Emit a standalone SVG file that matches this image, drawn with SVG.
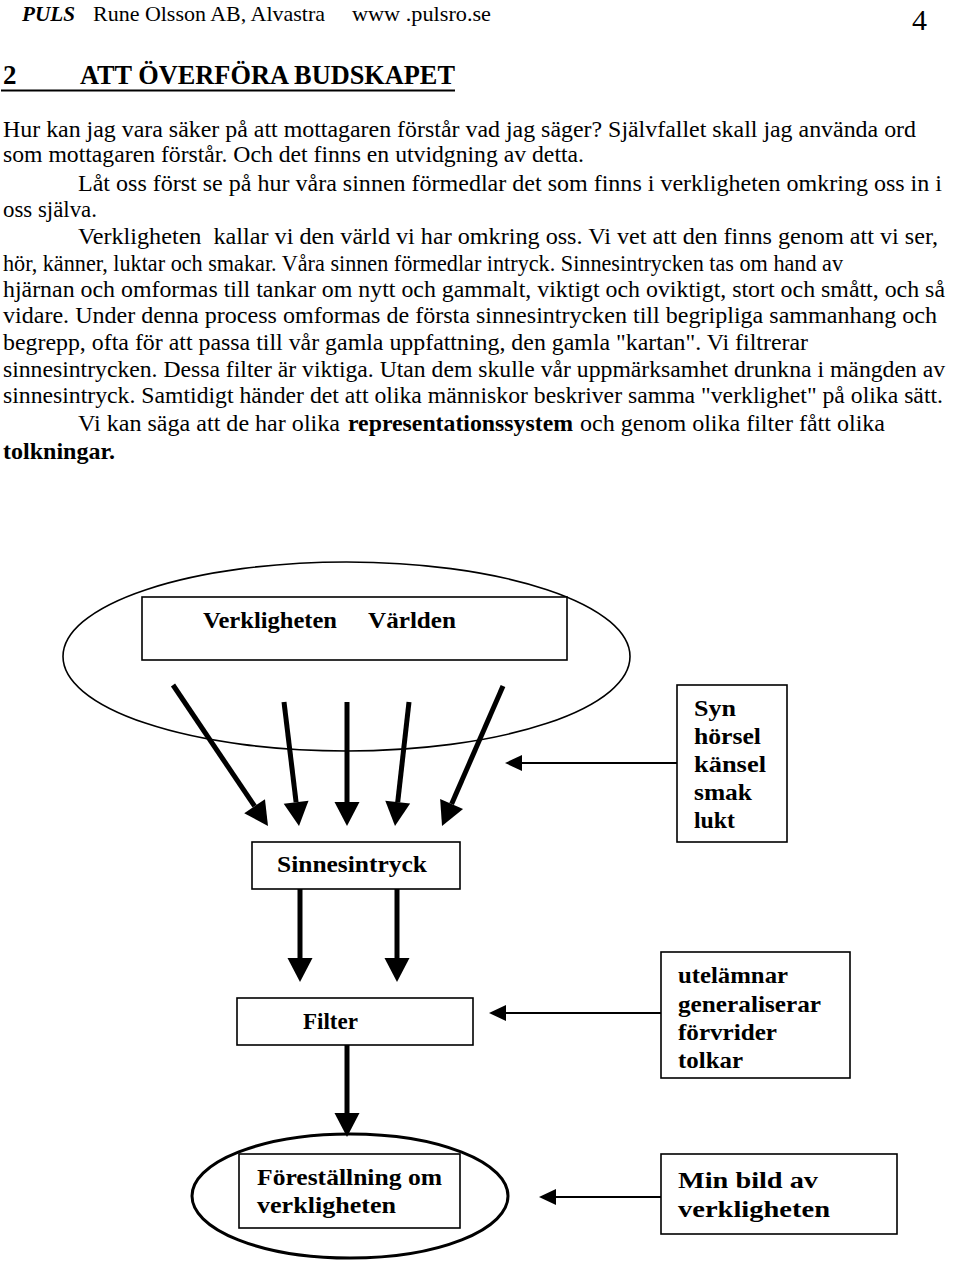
<svg xmlns="http://www.w3.org/2000/svg" width="960" height="1266" viewBox="0 0 960 1266">
<style>
text{font-family:"Liberation Serif","Times New Roman",serif;fill:#000}
.p{font-size:23px;white-space:pre}
.b{font-weight:bold}
.lbl{font-size:22.5px;font-weight:bold}
.box{fill:#fff;stroke:#000;stroke-width:1.6}
.thick{stroke:#000;stroke-width:5;fill:none}
.thin{stroke:#000;stroke-width:1.8;fill:none}
</style>
<defs>
<marker id="big" markerUnits="userSpaceOnUse" markerWidth="26" markerHeight="26" refX="0" refY="12.5" orient="auto" overflow="visible">
<path d="M0,0 L24,12.5 L0,25 z" fill="#000"/>
</marker>
<marker id="small" markerUnits="userSpaceOnUse" markerWidth="18" markerHeight="18" refX="0" refY="8" orient="auto" overflow="visible">
<path d="M0,0 L17,8 L0,16 z" fill="#000"/>
</marker>
</defs>
<rect width="960" height="1266" fill="#fff"/>

<g id="header">
<text x="22" y="21" font-size="21" font-weight="bold" font-style="italic" textLength="53" lengthAdjust="spacingAndGlyphs">PULS</text>
<text x="93" y="21" font-size="21" textLength="232" lengthAdjust="spacingAndGlyphs">Rune Olsson AB, Alvastra</text>
<text x="352" y="21" font-size="21" textLength="139" lengthAdjust="spacingAndGlyphs">www .pulsro.se</text>
<text x="912" y="30" font-size="30">4</text>
</g>

<g id="title">
<text x="3" y="84" font-size="27" font-weight="bold">2</text>
<text x="80" y="84" font-size="27" font-weight="bold" textLength="375" lengthAdjust="spacingAndGlyphs">ATT ÖVERFÖRA BUDSKAPET</text>
<line x1="1" y1="90.5" x2="455" y2="90.5" stroke="#000" stroke-width="2"/>
</g>

<g id="paragraph">
<text class="p" x="3" y="137" textLength="913" lengthAdjust="spacingAndGlyphs">Hur kan jag vara säker på att mottagaren förstår vad jag säger? Självfallet skall jag använda ord</text>
<text class="p" x="3" y="162" textLength="581" lengthAdjust="spacingAndGlyphs">som mottagaren förstår. Och det finns en utvidgning av detta.</text>
<text class="p" x="78" y="191" textLength="864" lengthAdjust="spacingAndGlyphs">Låt oss först se på hur våra sinnen förmedlar det som finns i verkligheten omkring oss in i</text>
<text class="p" x="3" y="217" textLength="94" lengthAdjust="spacingAndGlyphs">oss själva.</text>
<text class="p" x="78" y="244" textLength="860" lengthAdjust="spacingAndGlyphs">Verkligheten  kallar vi den värld vi har omkring oss. Vi vet att den finns genom att vi ser,</text>
<text class="p" x="3" y="271" textLength="840" lengthAdjust="spacingAndGlyphs">hör, känner, luktar och smakar. Våra sinnen förmedlar intryck. Sinnesintrycken tas om hand av</text>
<text class="p" x="3" y="297" textLength="942" lengthAdjust="spacingAndGlyphs">hjärnan och omformas till tankar om nytt och gammalt, viktigt och oviktigt, stort och smått, och så</text>
<text class="p" x="3" y="323" textLength="934" lengthAdjust="spacingAndGlyphs">vidare. Under denna process omformas de första sinnesintrycken till begripliga sammanhang och</text>
<text class="p" x="3" y="350" textLength="805" lengthAdjust="spacingAndGlyphs">begrepp, ofta för att passa till vår gamla uppfattning, den gamla "kartan". Vi filtrerar</text>
<text class="p" x="3" y="377" textLength="942" lengthAdjust="spacingAndGlyphs">sinnesintrycken. Dessa filter är viktiga. Utan dem skulle vår uppmärksamhet drunkna i mängden av</text>
<text class="p" x="3" y="403" textLength="940" lengthAdjust="spacingAndGlyphs">sinnesintryck. Samtidigt händer det att olika människor beskriver samma "verklighet" på olika sätt.</text>
<text class="p" x="78" y="431" textLength="262" lengthAdjust="spacingAndGlyphs">Vi kan säga att de har olika</text>
<text class="p b" x="348" y="431" textLength="225" lengthAdjust="spacingAndGlyphs">representationssystem</text>
<text class="p" x="580" y="431" textLength="305" lengthAdjust="spacingAndGlyphs">och genom olika filter fått olika</text>
<text class="p b" x="3" y="459" textLength="112" lengthAdjust="spacingAndGlyphs">tolkningar.</text>
</g>

<g id="world">
<ellipse cx="346.5" cy="656.5" rx="283.5" ry="94.5" fill="none" stroke="#000" stroke-width="1.6"/>
<rect class="box" x="142" y="597" width="425" height="63"/>
<text class="lbl" x="203" y="628" textLength="134" lengthAdjust="spacingAndGlyphs">Verkligheten</text>
<text class="lbl" x="368" y="628" textLength="88" lengthAdjust="spacingAndGlyphs">Världen</text>
</g>

<g id="sinnesintryck">
<rect class="box" x="252" y="842" width="208" height="47"/>
<text class="lbl" x="277" y="872" textLength="150" lengthAdjust="spacingAndGlyphs">Sinnesintryck</text>
</g>

<g id="senses">
<rect class="box" x="677" y="685" width="110" height="157"/>
<text class="lbl" x="694" y="716" textLength="42" lengthAdjust="spacingAndGlyphs">Syn</text>
<text class="lbl" x="694" y="744" textLength="67" lengthAdjust="spacingAndGlyphs">hörsel</text>
<text class="lbl" x="694" y="772" textLength="72" lengthAdjust="spacingAndGlyphs">känsel</text>
<text class="lbl" x="694" y="800" textLength="58" lengthAdjust="spacingAndGlyphs">smak</text>
<text class="lbl" x="694" y="828" textLength="41" lengthAdjust="spacingAndGlyphs">lukt</text>
</g>

<g id="filter">
<rect class="box" x="237" y="998" width="236" height="47"/>
<text class="lbl" x="303" y="1029" textLength="55" lengthAdjust="spacingAndGlyphs">Filter</text>
</g>

<g id="filterlist">
<rect class="box" x="661" y="952" width="189" height="126"/>
<text class="lbl" x="678" y="983" textLength="110" lengthAdjust="spacingAndGlyphs">utelämnar</text>
<text class="lbl" x="678" y="1012" textLength="143" lengthAdjust="spacingAndGlyphs">generaliserar</text>
<text class="lbl" x="678" y="1040" textLength="99" lengthAdjust="spacingAndGlyphs">förvrider</text>
<text class="lbl" x="678" y="1068" textLength="65" lengthAdjust="spacingAndGlyphs">tolkar</text>
</g>

<g id="forestallning">
<ellipse cx="350" cy="1196" rx="158" ry="62" fill="#fff" stroke="#000" stroke-width="3"/>
<rect class="box" x="239" y="1154" width="221" height="74"/>
<text class="lbl" x="257" y="1185" textLength="185" lengthAdjust="spacingAndGlyphs">Föreställning om</text>
<text class="lbl" x="257" y="1213" textLength="139" lengthAdjust="spacingAndGlyphs">verkligheten</text>
</g>

<g id="minbild">
<rect class="box" x="661" y="1154" width="236" height="80"/>
<text class="lbl" x="678" y="1188" font-size="25" textLength="140" lengthAdjust="spacingAndGlyphs">Min bild av</text>
<text class="lbl" x="678" y="1217" font-size="25" textLength="152" lengthAdjust="spacingAndGlyphs">verkligheten</text>
</g>

<g id="connectors">
<line class="thick" x1="173" y1="685" x2="254.6" y2="806.2" marker-end="url(#big)"/>
<line class="thick" x1="284" y1="702" x2="296.1" y2="802.2" marker-end="url(#big)"/>
<line class="thick" x1="347" y1="702" x2="347" y2="802" marker-end="url(#big)"/>
<line class="thick" x1="409" y1="702" x2="397.7" y2="802.2" marker-end="url(#big)"/>
<line class="thick" x1="503" y1="686" x2="451.6" y2="804" marker-end="url(#big)"/>
<line class="thick" x1="300" y1="889" x2="300" y2="958" marker-end="url(#big)"/>
<line class="thick" x1="397" y1="889" x2="397" y2="958" marker-end="url(#big)"/>
<line class="thick" x1="347" y1="1045" x2="347" y2="1113" marker-end="url(#big)"/>
<line class="thin" x1="677" y1="763" x2="522" y2="763" marker-end="url(#small)"/>
<line class="thin" x1="661" y1="1013" x2="506" y2="1013" marker-end="url(#small)"/>
<line class="thin" x1="661" y1="1197" x2="556" y2="1197" marker-end="url(#small)"/>
</g>
</svg>
